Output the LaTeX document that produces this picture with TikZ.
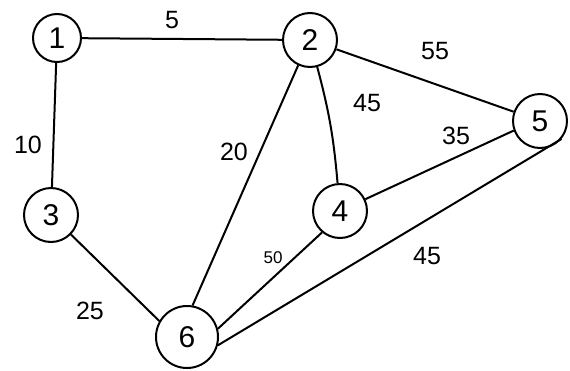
\documentclass[tikz,border=0pt]{standalone}
\usepackage{fontspec}
\setmainfont{Liberation Sans}
\begin{document}
\begin{tikzpicture}[x=1pt,y=-1pt,
  vert/.style={draw,circle,line width=2pt,inner sep=0pt,minimum size=54pt,font=\fontsize{30}{30}\selectfont},
  edge/.style={line width=2pt},
  wlabel/.style={font=\fontsize{25}{25}\selectfont,inner sep=1pt}]
\useasboundingbox (0,0) rectangle (570,370);
\node[vert,minimum size=48pt] (n1) at (57,38) {1};
\node[vert] (n2) at (310,40) {2};
\node[vert] (n3) at (51,215) {3};
\node[vert] (n4) at (340,211) {4};
\node[vert] (n5) at (540,121) {5};
\node[vert,minimum size=62pt] (n6) at (187,337) {6};
\draw[edge] (n1) -- (n2);
\draw[edge] (n1) -- (n3);
\draw[edge] (n2) -- (n5);
\draw[edge] (n2.-75) to[bend left=5] (n4.95);
\draw[edge] (n2.-115) -- (n6.80);
\draw[edge] (n4.25) -- (n5.200);
\draw[edge] (n3) -- (n6.150);
\draw[edge] (n6.15) -- (n4.-130);
\draw[edge] (n6.-15) -- (n5.-40);
\node[wlabel] (l12) at (172,20) {5};
\node[wlabel] (l13) at (28,145) {10};
\node[wlabel] (l25) at (435,51) {55};
\node[wlabel] (l24) at (367,103) {45};
\node[wlabel] (l45) at (456,136) {35};
\node[wlabel] (l26) at (234,152) {20};
\node[wlabel] (l36) at (90,311) {25};
\node[wlabel,font=\fontsize{17}{17}\selectfont] (l64) at (273,258) {50};
\node[wlabel] (l65) at (427,256) {45};
\end{tikzpicture}
\end{document}
